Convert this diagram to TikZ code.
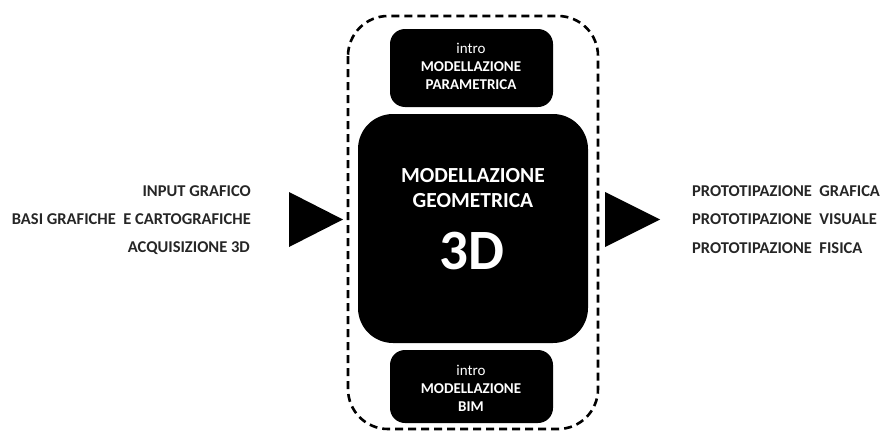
\documentclass[tikz,border=0pt]{standalone}
\usepackage{fontspec}
\setmainfont{Carlito}
\begin{document}
\begin{tikzpicture}[x=1pt,y=-1pt,
  blackbox/.style={draw=none,fill=black,rounded corners=#1,inner sep=0pt},
  boxtext/.style={text=white,font=\bfseries\fontsize{15}{17}\selectfont,inner sep=0pt},
  introtext/.style={text=white,font=\fontsize{15}{17}\selectfont,inner sep=0pt},
  bigtext/.style={text=white,font=\bfseries\fontsize{21.5}{25}\selectfont,inner sep=0pt},
  sidetext/.style={font=\bfseries\fontsize{16.5}{19}\selectfont,inner sep=0pt,text=black!85},
  arrowhead/.style={fill=black,draw=none}]
\useasboundingbox (0,0) rectangle (883,431);

% dashed frame round the modelling blocks
\draw[line width=2.6pt,dash pattern=on 8pt off 5pt,rounded corners=40pt]
  (348,16) rectangle (598,429);

% parametric modelling block
\path[blackbox=15pt] (390,29) rectangle (553,107);
\node[introtext] (parintro) at (471,48) {intro};
\node[boxtext] (parl1) at (471,67) {MODELLAZIONE};
\node[boxtext] (parl2) at (471,85) {PARAMETRICA};

% central 3D geometric modelling block
\path[blackbox=35pt] (358,114) rectangle (588,343);
\node[bigtext] (geo1) at (473,176) {MODELLAZIONE};
\node[bigtext] (geo2) at (473,201) {GEOMETRICA};
\node[text=white,font=\bfseries\fontsize{57}{64}\selectfont,inner sep=0pt] (geo3d) at (472,251) {3D};

% BIM modelling block
\path[blackbox=15pt] (390,350) rectangle (553,423);
\node[introtext] (bimintro) at (471,370) {intro};
\node[boxtext] (biml1) at (471,389) {MODELLAZIONE};
\node[boxtext] (biml2) at (471,407) {BIM};

% input arrow head and labels
\fill[arrowhead] (289,192) -- (343,219.5) -- (289,247) -- cycle;
\node[sidetext,anchor=east] (in1) at (251,191) {INPUT GRAFICO};
\node[sidetext,anchor=east] (in2) at (251,219) {BASI GRAFICHE\ \ E CARTOGRAFICHE};
\node[sidetext,anchor=east] (in3) at (250,248) {ACQUISIZIONE 3D};

% output arrow head and labels
\fill[arrowhead] (605,192) -- (660,219.5) -- (605,247) -- cycle;
\node[sidetext,anchor=west] (out1) at (692,191) {PROTOTIPAZIONE\ \ GRAFICA};
\node[sidetext,anchor=west] (out2) at (692,219) {PROTOTIPAZIONE\ \ VISUALE};
\node[sidetext,anchor=west] (out3) at (692,248) {PROTOTIPAZIONE\ \ FISICA};
\end{tikzpicture}
\end{document}
